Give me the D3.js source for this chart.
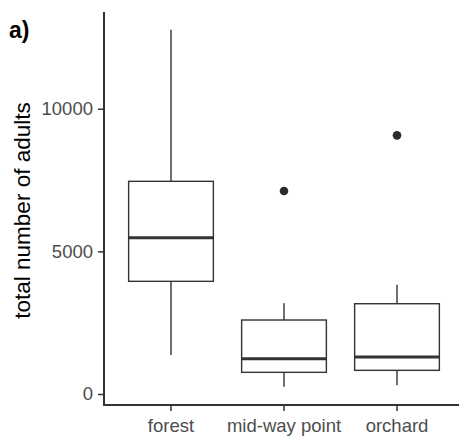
<!DOCTYPE html>
<html>
<head>
<meta charset="utf-8">
<script src="https://cdn.jsdelivr.net/npm/d3@7"></script>
<style>
  html, body { margin: 0; padding: 0; background: #fff; }
  svg { display: block; }
</style>
</head>
<body>
<svg id="chart" width="459" height="437"></svg>
<script>
const categories = ["forest", "mid-way point", "orchard"];
const whiskerLow  = [1370, 256, 305];
const q1          = [3950, 760, 830];
const median      = [5480, 1238, 1297];
const q3          = [7455, 2594, 3165];
const whiskerHigh = [12770, 3179, 3831];
const outliers    = [[], [7115], [9067]];
const yTicks = [0, 5000, 10000];
const yLabel = "total number of adults";
const panelLabel = "a)";

const svg = d3.select("#chart");
const axisColor = "#333333";
const lineColor = "#333333";
const textColor = "#4d4d4d";
const font = "'Liberation Sans', Arial, sans-serif";

const plotLeft = 104, plotBottom = 405, plotTop = 12;
const step = 113;
const x = d3.scaleBand().domain(categories)
  .range([plotLeft - 0.8, plotLeft - 0.8 + 3.2 * step])
  .paddingInner(0).paddingOuter(0.1);
const y = d3.scaleLinear().domain([-385, 13390]).range([plotBottom, plotTop]);

const boxW = x.bandwidth() * 0.75;

const data = categories.map((c, i) => ({
  cat: c, lo: whiskerLow[i], q1: q1[i], med: median[i], q3: q3[i], hi: whiskerHigh[i], out: outliers[i]
}));

const g = svg.append("g");
data.forEach(d => {
  const cx = x(d.cat) + x.bandwidth() / 2;
  // whiskers
  g.append("line").attr("x1", cx).attr("x2", cx).attr("y1", y(d.q3)).attr("y2", y(d.hi))
    .attr("stroke", lineColor).attr("stroke-width", 1.4);
  g.append("line").attr("x1", cx).attr("x2", cx).attr("y1", y(d.q1)).attr("y2", y(d.lo))
    .attr("stroke", lineColor).attr("stroke-width", 1.4);
  // box
  g.append("rect").attr("x", cx - boxW / 2).attr("y", y(d.q3))
    .attr("width", boxW).attr("height", y(d.q1) - y(d.q3))
    .attr("fill", "#fff").attr("stroke", lineColor).attr("stroke-width", 1.4);
  // median
  g.append("line").attr("x1", cx - boxW / 2).attr("x2", cx + boxW / 2)
    .attr("y1", y(d.med)).attr("y2", y(d.med))
    .attr("stroke", lineColor).attr("stroke-width", 3);
  d.out.forEach(o => {
    g.append("circle").attr("cx", cx).attr("cy", y(o)).attr("r", 4.3).attr("fill", "#2b2b2b");
  });
});

// Axes
const yAxis = svg.append("g").attr("transform", `translate(${plotLeft},0)`)
  .call(d3.axisLeft(y).tickValues(yTicks).tickSize(6).tickPadding(5).tickFormat(d3.format("d")));
yAxis.select(".domain").remove();
yAxis.append("line").attr("x1", 0).attr("x2", 0).attr("y1", plotTop).attr("y2", plotBottom + 1)
  .attr("stroke", axisColor).attr("stroke-width", 2);
yAxis.selectAll(".tick line").attr("stroke", axisColor).attr("stroke-width", 1.5);
yAxis.selectAll(".tick text").attr("fill", textColor).attr("font-family", font).attr("font-size", 18.5);

const xAxis = svg.append("g").attr("transform", `translate(0,${plotBottom})`)
  .call(d3.axisBottom(x).tickSize(6).tickPadding(8));
xAxis.select(".domain").remove();
xAxis.append("line").attr("x1", plotLeft - 1).attr("x2", 459).attr("y1", 0).attr("y2", 0)
  .attr("stroke", axisColor).attr("stroke-width", 2);
xAxis.selectAll(".tick line").attr("stroke", axisColor).attr("stroke-width", 1.5);
xAxis.selectAll(".tick text").attr("fill", textColor).attr("font-family", font).attr("font-size", 18.5);

// Y label
svg.append("text").attr("transform", "translate(30,210.5) rotate(-90)")
  .attr("text-anchor", "middle").attr("font-family", font).attr("font-size", 22.5)
  .attr("fill", "#000").text(yLabel);

// Panel label
svg.append("text").attr("x", 9).attr("y", 38).attr("font-family", font)
  .attr("font-weight", "bold").attr("font-size", 23).attr("fill", "#000").text(panelLabel);
</script>
</body>
</html>
